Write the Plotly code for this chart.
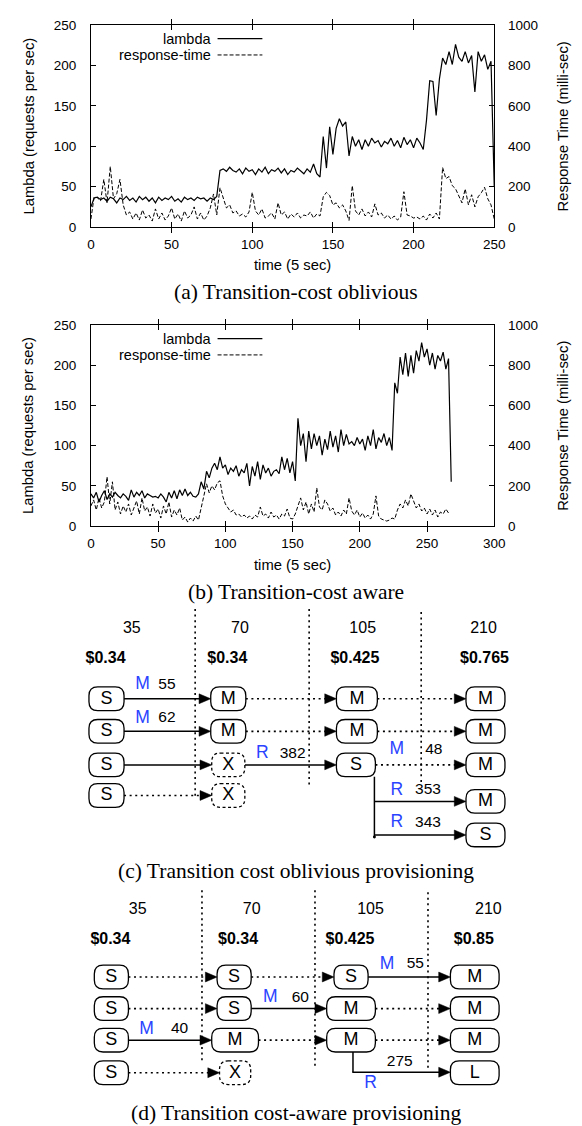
import plotly.graph_objects as go

W, H = 582, 1126

# ---------------- chart data ----------------
# (a) Transition-cost oblivious  (time step 2, unit = 5 sec)
time_a = list(range(0, 251, 2))
lambda_a = [25, 36, 37, 34, 36, 32, 37, 35, 30, 36,
            34, 38, 33, 36, 31, 38, 34, 37, 32, 36,
            30, 37, 33, 36, 34, 38, 32, 35, 31, 37,
            34, 36, 33, 37, 35, 36, 32, 36, 34, 38,
            70, 72, 69, 74, 70, 68, 72, 66, 73, 69,
            71, 65, 72, 68, 74, 66, 71, 69, 73, 67,
            72, 65, 70, 68, 73, 70, 66, 72, 68, 78,
            66, 62, 112, 73, 124, 90, 122, 134, 125, 130,
            88, 112, 100, 108, 96, 108, 100, 110, 104, 107,
            99, 106, 103, 110, 100, 107, 98, 111, 102, 108,
            98, 110, 104, 96, 132, 181, 180, 138, 183, 209,
            201, 217, 201, 226, 210, 205, 217, 203, 212, 167,
            217, 205, 213, 195, 205,
            50]
resp_a = [40, 150, 145, 130, 236, 120, 300, 140, 165, 236,
          110, 60, 75, 40, 70, 35, 85, 45, 60, 30,
          90, 40, 70, 35, 55, 95, 40, 65, 30, 80,
          45, 60, 100, 40, 70, 35, 55, 95, 164, 60,
          195, 150, 95, 110, 70, 80, 55, 65, 50, 75,
          172, 80, 60, 90, 45, 55, 70, 40, 120, 60,
          75, 40, 65, 50, 70, 45, 60, 55, 75, 45,
          65, 55, 150, 172, 156, 110, 120, 95, 110, 80,
          33, 205, 80, 60, 90, 55, 75, 50, 115, 60,
          70, 45, 60, 40, 55, 35, 50, 175, 60, 55,
          45, 50, 40, 55, 35, 65, 45, 70, 40, 295,
          240, 250, 205, 190, 150, 120, 189, 110, 160, 100,
          150, 170, 197, 140, 110,
          40]

# (b) Transition-cost aware
time_b = list(range(0, 269, 2))
lambda_b = [40, 35, 42, 30, 38, 44, 33, 40, 36, 42,
            38, 35, 40, 37, 32, 45, 36, 42, 38, 44,
            35, 40, 38, 36, 37, 35, 40, 36, 30, 42,
            35, 44, 34, 45, 38, 46, 38, 42, 37, 36,
            40, 55, 46, 68, 60, 72, 78, 70, 86, 72,
            76, 64, 72, 68, 75, 62, 70, 66, 78, 50,
            74, 62, 80, 58, 76, 66, 72, 62, 68, 70,
            65, 86, 70, 84, 66, 80, 56, 134, 100, 115,
            80, 118, 96, 115, 100, 112, 88, 108, 95, 118,
            98, 112, 92, 120, 100, 114, 102, 105, 100, 110,
            102, 108, 94, 112, 100, 120, 96, 110, 104, 115,
            100, 110, 94, 178, 165, 210, 188, 215, 186, 212,
            190, 218, 205, 228, 210, 220, 200, 215, 195, 212,
            205, 216, 195, 208, 55]
time_b_rt = list(range(0, 267, 2))
resp_b = [100, 130, 80, 140, 90, 120, 245, 110, 220, 80,
          120, 60, 100, 70, 110, 55, 90, 125, 60, 140,
          75, 95, 50, 110, 65, 85, 40, 100, 60, 120,
          45, 80, 55, 90, 30, 45, 20, 40, 25, 50,
          30, 90, 140, 210, 165, 200, 180, 215, 225, 150,
          110, 90, 70, 80, 55, 60, 45, 55, 40, 50,
          35, 55, 45, 95, 50, 60, 40, 70, 45, 55,
          35, 60, 50, 85, 40, 35, 60, 100, 140, 80,
          120, 60, 110, 70, 190, 95, 80, 130, 110, 75,
          90, 55, 70, 50, 80, 60, 140, 75, 55, 80,
          45, 65, 40, 55, 35, 60, 150, 50, 35, 30,
          25, 30, 40, 35, 80, 110, 90, 130, 100, 160,
          120, 90, 110, 75, 90, 60, 85, 55, 80, 45,
          70, 60, 85, 65]

x_ticks_a = [0, 50, 100, 150, 200, 250]
x_ticks_b = [0, 50, 100, 150, 200, 250, 300]
lam_ticks = [0, 50, 100, 150, 200, 250]
rt_ticks = [0, 200, 400, 600, 800, 1000]

series_names = ["lambda", "response-time"]
captions = ["(a) Transition-cost oblivious", "(b) Transition-cost aware",
            "(c) Transition cost oblivious provisioning",
            "(d) Transition cost-aware provisioning"]

# ---------------- diagram data ----------------
loads = ["35", "70", "105", "210"]
costs_c = ["$0.34", "$0.34", "$0.425", "$0.765"]
costs_d = ["$0.34", "$0.34", "$0.425", "$0.85"]
trans_c = [("M", "55"), ("M", "62"), ("R", "382"), ("M", "48"), ("R", "353"), ("R", "343")]
trans_d = [("M", "40"), ("M", "60"), ("M", "55"), ("R", "275")]

# ---------------- layout helpers ----------------
SANS = "Liberation Sans, Arial, sans-serif"
SERIF = "Liberation Serif, Times New Roman, serif"
BLUE = "#2a43ff"

def px(x):
    return x / W

def py(y):
    return 1 - y / H

A_L, A_R = 81, 495
A_T, A_B = 10, 215
B_T, B_B = 314, 518
D_TOP = 596

fig = go.Figure()

# chart traces
fig.add_trace(go.Scatter(x=time_a, y=lambda_a, mode="lines", xaxis="x", yaxis="y",
                         line=dict(color="black", width=1.2), showlegend=False))
fig.add_trace(go.Scatter(x=time_a, y=resp_a, mode="lines", xaxis="x", yaxis="y2",
                         line=dict(color="black", width=1, dash="4px,2px"), showlegend=False))
fig.add_trace(go.Scatter(x=time_b, y=lambda_b, mode="lines", xaxis="x2", yaxis="y3",
                         line=dict(color="black", width=1.2), showlegend=False))
fig.add_trace(go.Scatter(x=time_b_rt, y=resp_b, mode="lines", xaxis="x2", yaxis="y4",
                         line=dict(color="black", width=1, dash="4px,2px"), showlegend=False))

tickfont = dict(family=SANS, size=13.5, color="black")
common = dict(showgrid=False, zeroline=False, showline=True, linecolor="black", linewidth=1,
              ticks="inside", ticklen=5, tickwidth=1, tickcolor="black", tickfont=tickfont,
              fixedrange=True)

xdom = [px(A_L), px(A_R)]
layout = dict(
    width=W, height=H, margin=dict(l=0, r=0, t=0, b=0),
    paper_bgcolor="white", plot_bgcolor="rgba(0,0,0,0)", showlegend=False,
    xaxis=dict(domain=xdom, range=[0, 250], tickvals=x_ticks_a, anchor="y",
               mirror="allticks", ticklabelstandoff=5, **common),
    yaxis=dict(domain=[py(A_B), py(A_T)], range=[0, 250], tickvals=lam_ticks, anchor="x",
               mirror=True, ticklabelstandoff=11, **common),
    yaxis2=dict(range=[0, 1000], tickvals=rt_ticks, overlaying="y", side="right", anchor="x",
                ticklabelstandoff=10, **common),
    xaxis2=dict(domain=xdom, range=[0, 300], tickvals=x_ticks_b, anchor="y3",
                mirror="allticks", ticklabelstandoff=5, **common),
    yaxis3=dict(domain=[py(B_B), py(B_T)], range=[0, 250], tickvals=lam_ticks, anchor="x2",
                mirror=True, ticklabelstandoff=11, **common),
    yaxis4=dict(range=[0, 1000], tickvals=rt_ticks, overlaying="y3", side="right", anchor="x2",
                ticklabelstandoff=10, **common),
    xaxis3=dict(domain=[0, 1], range=[0, W], visible=False, anchor="y5", fixedrange=True),
    yaxis5=dict(domain=[0, py(D_TOP)], range=[H, D_TOP], visible=False, anchor="x3", fixedrange=True),
)
fig.update_layout(**layout)

annotations = []
shapes = []

def ann(x, y, text, size, family=SANS, angle=0, color="black"):
    annotations.append(dict(x=px(x), y=py(y), xref="paper", yref="paper", text=text,
                            showarrow=False, textangle=angle, xanchor="center", yanchor="middle",
                            font=dict(family=family, size=size, color=color)))

# axis titles, legend and captions for charts
for top, bot, xtitle_y, cap_y, cap in [(A_T, A_B, 253, 281, captions[0]),
                                       (B_T, B_B, 557, 585, captions[1])]:
    mid = (top + bot) / 2
    ann(17, mid, "Lambda (requests per sec)", 14.8, angle=-90)
    ann(566, mid, "Response Time (milli-sec)", 14.8, angle=-90)
    ann((A_L + A_R) / 2, xtitle_y, "time (5 sec)", 14.8)
    ann(291, cap_y, cap, 21.5, family=SERIF)
    for i, name in enumerate(series_names):
        ly = top + 14 + 16.5 * i
        annotations.append(dict(x=px(206), y=py(ly), xref="paper", yref="paper", text=name,
                                showarrow=False, xanchor="right", yanchor="middle",
                                font=dict(family=SANS, size=14.5, color="black")))
        shapes.append(dict(type="line", xref="paper", yref="paper", x0=px(211), x1=px(257),
                           y0=py(ly), y1=py(ly),
                           line=dict(color="black", width=1.2 if i == 0 else 1,
                                     dash="solid" if i == 0 else "4px,2px")))

ann(291, 868, captions[2], 21.5, family=SERIF)
ann(291, 1113, captions[3], 21.5, family=SERIF)

# ---------------- diagram drawing ----------------
def rbox(cx, cy, w, h=24, r=9, dashed=False):
    x0, x1 = cx - w / 2, cx + w / 2
    y0, y1 = cy - h / 2, cy + h / 2
    path = (f"M{x0+r},{y0} L{x1-r},{y0} Q{x1},{y0} {x1},{y0+r} L{x1},{y1-r} "
            f"Q{x1},{y1} {x1-r},{y1} L{x0+r},{y1} Q{x0},{y1} {x0},{y1-r} "
            f"L{x0},{y0+r} Q{x0},{y0} {x0+r},{y0} Z")
    shapes.append(dict(type="path", xref="x3", yref="y5", path=path, fillcolor="white",
                       layer="below",
                       line=dict(color="black", width=1.3, dash="3px,2.5px" if dashed else "solid")))

DOT = "2px,3.6px"

def seg(x0, y0, x1, y1, dotted=False, width=1.5):
    shapes.append(dict(type="line", xref="x3", yref="y5", x0=x0, y0=y0, x1=x1, y1=y1,
                       layer="below",
                       line=dict(color="black", width=width if not dotted else 1.6,
                                 dash=DOT if dotted else "solid")))

def arrow(x0, x1, y, dotted=False):
    L, hw = 12, 5
    seg(x0, y, x1 - L + 1, y, dotted)
    shapes.append(dict(type="path", xref="x3", yref="y5", layer="below",
                       path=f"M{x1},{y} L{x1-L},{y-hw} L{x1-L},{y+hw} Z",
                       fillcolor="black", line=dict(color="black", width=0.5)))

def vdots(x, y0, y1):
    shapes.append(dict(type="line", xref="x3", yref="y5", x0=x, x1=x, y0=y0, y1=y1,
                       layer="below", line=dict(color="black", width=1.6, dash=DOT)))

texts = {"box": ([], [], []), "head": ([], [], []), "cost": ([], [], []),
         "blue": ([], [], []), "num": ([], [], [])}

def put(kind, x, y, t):
    texts[kind][0].append(x)
    texts[kind][1].append(y)
    texts[kind][2].append(t)

# ----- diagram (c) -----
c_head_x = [123, 234, 360, 484]
c_cost_x = [96, 221, 352, 485]
for i in range(4):
    put("head", c_head_x[i], 622, loads[i])
    put("cost", c_cost_x[i], 653, f"<b>{costs_c[i]}</b>")
vdots(188, 602, 793)
vdots(305, 602, 780)
vdots(420, 605, 778)

# nodes: (label, cx, cy, w, dashed)
c_nodes = [("S", 97, 693, 36, False), ("S", 97, 726, 36, False), ("S", 97, 760, 36, False),
           ("S", 97, 791, 36, False),
           ("M", 222, 693, 36, False), ("M", 222, 726, 36, False), ("X", 222, 760, 34, True),
           ("X", 222, 791, 34, True),
           ("M", 354, 693, 42, False), ("M", 354, 726, 42, False), ("S", 353, 760, 40, False),
           ("M", 486, 693, 40, False), ("M", 486, 726, 40, False), ("M", 486, 760, 40, False),
           ("M", 486, 797, 40, False), ("S", 486, 831, 40, False)]
# edges: (from index, to index, dotted)
c_edges = [(0, 4, False), (1, 5, False), (2, 6, False), (3, 7, True),
           (4, 8, True), (5, 9, True), (6, 10, False),
           (8, 11, True), (9, 12, True), (10, 13, True)]

def draw_edges(nodes, edges):
    for a, b, dotted in edges:
        na, nb = nodes[a], nodes[b]
        arrow(na[1] + na[3] / 2, nb[1] - nb[3] / 2, na[2], dotted)

draw_edges(c_nodes, c_edges)
# split from the S box at 105 into two reassigned servers
seg(372, 772, 372, 833)
arrow(372, 486 - 20, 797)
arrow(372, 486 - 20, 831)
shapes.append(dict(type="circle", xref="x3", yref="y5", x0=370.5, x1=373.5, y0=831.5, y1=834.5,
                   layer="below", fillcolor="black", line=dict(color="black", width=0)))
for nd in c_nodes:
    rbox(nd[1], nd[2], nd[3], dashed=nd[4])
    put("box", nd[1], nd[2] + 0.5, nd[0])

c_label_pos = [(134, 159, 679), (134, 159, 713), (257, 288, 749), (395, 433, 745),
               (395, 427, 786), (395, 427, 819)]
for (letter, num), (lx, nx, ly) in zip(trans_c, c_label_pos):
    put("blue", lx, ly, letter)
    put("num", nx, ly, num)

# ----- diagram (d) -----
d_head_x = [129, 246, 368, 489]
d_cost_x = [101, 232, 347, 474]
for i in range(4):
    put("head", d_head_x[i], 907, loads[i])
    put("cost", d_cost_x[i], 937, f"<b>{costs_d[i]}</b>")
vdots(195, 887, 1063)
vdots(311, 887, 1065)
vdots(427, 889, 1068)

d_nodes = [("S", 102, 975, 35, False), ("S", 102, 1007, 35, False), ("S", 102, 1039, 35, False),
           ("S", 102, 1072, 35, False),
           ("S", 228, 975, 35, False), ("S", 228, 1007, 35, False), ("M", 229, 1039, 48, False),
           ("X", 229, 1072, 32, True),
           ("S", 348, 975, 35, False), ("M", 348, 1007, 50, False), ("M", 348, 1039, 50, False),
           ("M", 475, 975, 50, False), ("M", 475, 1007, 50, False), ("M", 475, 1039, 50, False),
           ("L", 475, 1072, 50, False)]
d_edges = [(0, 4, True), (1, 5, True), (2, 6, False), (3, 7, True),
           (4, 8, True), (5, 9, False), (6, 10, True),
           (8, 11, False), (9, 12, True), (10, 13, True)]
draw_edges(d_nodes, d_edges)
seg(350, 1051, 350, 1071.5)
arrow(349.3, 450, 1071.5)
for nd in d_nodes:
    rbox(nd[1], nd[2], nd[3], dashed=nd[4])
    put("box", nd[1], nd[2] + 0.5, nd[0])

d_label_pos = [(138, 172, 1028), (265, 296, 996), (385, 414, 962), (368, 398, 1083)]
for (letter, num), (lx, nx, ly) in zip(trans_d, d_label_pos):
    put("blue", lx, ly, letter)
    put("num", nx, 1061 if num == "275" else ly, num)

styles = {"box": (18, "black"), "head": (16, "black"), "cost": (16, "black"),
          "blue": (17.5, BLUE), "num": (15.5, "black")}
for kind, (xs, ys, ts) in texts.items():
    size, color = styles[kind]
    fig.add_trace(go.Scatter(x=xs, y=ys, text=ts, mode="text", xaxis="x3", yaxis="y5",
                             textposition="middle center", cliponaxis=False, showlegend=False,
                             hoverinfo="skip",
                             textfont=dict(family=SANS, size=size, color=color)))

fig.update_layout(annotations=annotations, shapes=shapes)
fig.write_html("out.html")
